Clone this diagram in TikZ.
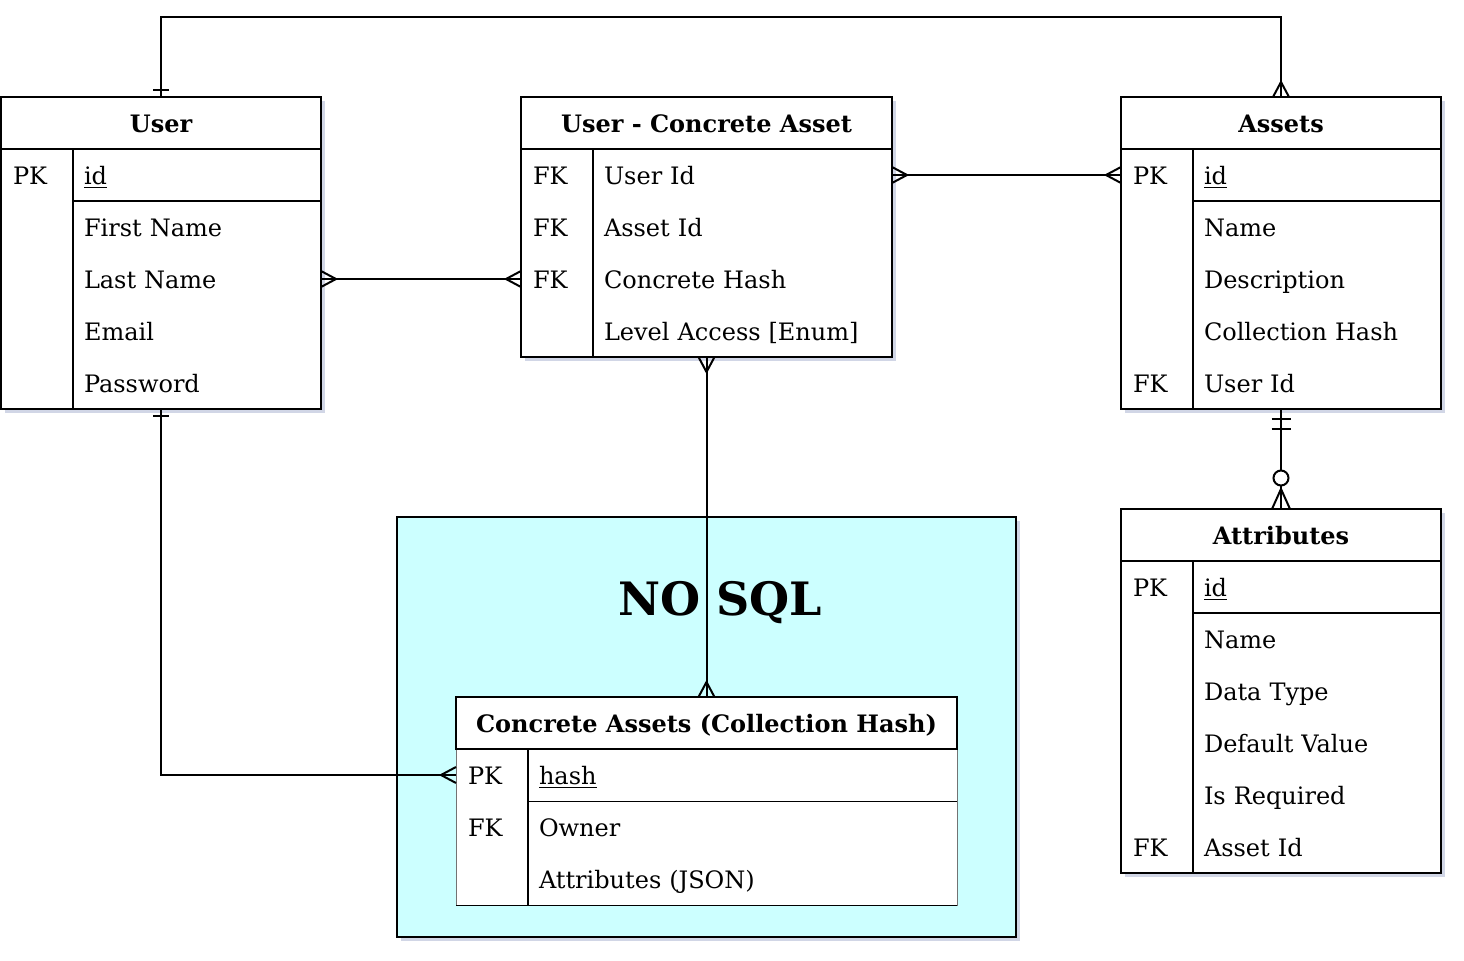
\documentclass[tikz,border=0pt]{standalone}
\usepackage{fontspec}
\setmainfont{DejaVu Serif}
\usepackage{tikz}
\usetikzlibrary{
  positioning
  , shadows
  , arrows.meta
}

\definecolor{nosqlfill}{HTML}{CCFFFF}
\definecolor{shadowblue}{HTML}{9AA3C8}

% crow's foot ends
\pgfdeclarearrow{
  name = ERmany,
  setup code = {
    \pgfarrowssettipend{0pt}
    \pgfarrowssetbackend{-7.5pt}
    \pgfarrowssetlineend{0pt}
  },
  drawing code = {
    \pgfpathmoveto{\pgfqpoint{0pt}{4pt}}
    \pgfpathlineto{\pgfqpoint{-7.5pt}{0pt}}
    \pgfpathlineto{\pgfqpoint{0pt}{-4pt}}
    \pgfusepathqstroke
  }
}
\pgfdeclarearrow{
  name = ERone,
  setup code = {
    \pgfarrowssettipend{0pt}
    \pgfarrowssetbackend{-3.5pt}
    \pgfarrowssetlineend{0pt}
  },
  drawing code = {
    \pgfpathmoveto{\pgfqpoint{-3.5pt}{4pt}}
    \pgfpathlineto{\pgfqpoint{-3.5pt}{-4pt}}
    \pgfusepathqstroke
  }
}
\pgfdeclarearrow{
  name = ERmandone,
  setup code = {
    \pgfarrowssettipend{0pt}
    \pgfarrowssetbackend{-10pt}
    \pgfarrowssetlineend{0pt}
  },
  drawing code = {
    \pgfpathmoveto{\pgfqpoint{-5pt}{4.75pt}}
    \pgfpathlineto{\pgfqpoint{-5pt}{-4.75pt}}
    \pgfpathmoveto{\pgfqpoint{-10pt}{4.75pt}}
    \pgfpathlineto{\pgfqpoint{-10pt}{-4.75pt}}
    \pgfusepathqstroke
  }
}
\pgfdeclarearrow{
  name = ERzeromany,
  setup code = {
    \pgfarrowssettipend{0pt}
    \pgfarrowssetbackend{-19.5pt}
    \pgfarrowssetlineend{0pt}
  },
  drawing code = {
    \pgfpathmoveto{\pgfqpoint{0pt}{4.5pt}}
    \pgfpathlineto{\pgfqpoint{-10pt}{0pt}}
    \pgfpathlineto{\pgfqpoint{0pt}{-4.5pt}}
    \pgfusepathqstroke
    \pgfsetfillcolor{white}
    \pgfpathcircle{\pgfqpoint{-15.5pt}{0pt}}{3.75pt}
    \pgfusepathqfillstroke
  }
}

\tikzset{
  every node/.style={outer sep=0pt, font=\fontsize{12}{14}\selectfont},
  tbl/.style={draw, fill=white, inner sep=0pt, anchor=north west,
    drop shadow={shadow xshift=2pt, shadow yshift=-2pt, opacity=.45, fill=shadowblue}},
  tblhead/.style={draw, fill=white, inner sep=0pt, anchor=north west,
    minimum height=26pt, text height=10pt, text depth=1pt,
    font=\fontsize{12}{14}\selectfont\bfseries},
  keycell/.style={anchor=north west, inner xsep=6pt, inner ysep=0pt,
    text width=24pt, align=left, minimum height=26pt,
    text height=10pt, text depth=1pt},
  fieldcell/.style={inner xsep=5.5pt, inner ysep=0pt,
    text width=#1, align=left, minimum height=26pt,
    text height=10pt, text depth=1pt},
  link/.style={line width=1pt},
}

\begin{document}
\begin{tikzpicture}[x=1pt, y=-1pt, line width=1pt]
  \useasboundingbox (0,0) rectangle (732,480);

  % NO SQL area
  \node[draw, fill=nosqlfill, inner sep=0pt, anchor=north west,
    minimum width=309.5pt, minimum height=210pt,
    drop shadow={shadow xshift=2pt, shadow yshift=-2pt, opacity=.45, fill=shadowblue}]
    (nosql) at (198.5,258.5) {};
  \node[anchor=base, font=\fontsize{23}{27}\selectfont\bfseries] (nosql-t) at (360,307.5) {NO SQL};

  % User
  \node[tbl, minimum width=160pt, minimum height=156pt] (user) at (0.5,48.5) {};
  \node[tblhead, minimum width=160pt] (user-h) at (0.5,48.5) {User};
  \foreach \k/\f [count=\i] in {PK/\underline{id}, /First Name, /Last Name, /Email, /Password}{
    \node[keycell] (user-k\i) at (0.5,{48.5+26*\i}) {\k};
    \node[fieldcell=113pt, right=0pt of user-k\i] (user-f\i) {\f};
  }
  \draw (user-k1.north east) -- (user-k5.south east);
  \draw (user-f1.south west) -- (user-f1.south east);

  % User - Concrete Asset
  \node[tbl, minimum width=185.5pt, minimum height=130pt] (uca) at (260.5,48.5) {};
  \node[tblhead, minimum width=185.5pt] (uca-h) at (260.5,48.5) {User - Concrete Asset};
  \foreach \k/\f [count=\i] in {FK/User Id, FK/Asset Id, FK/Concrete Hash, /Level Access [Enum]}{
    \node[keycell] (uca-k\i) at (260.5,{48.5+26*\i}) {\k};
    \node[fieldcell=138.5pt, right=0pt of uca-k\i] (uca-f\i) {\f};
  }
  \draw (uca-k1.north east) -- (uca-k4.south east);

  % Assets
  \node[tbl, minimum width=160pt, minimum height=156pt] (assets) at (560.5,48.5) {};
  \node[tblhead, minimum width=160pt] (assets-h) at (560.5,48.5) {Assets};
  \foreach \k/\f [count=\i] in {PK/\underline{id}, /Name, /Description, /Collection Hash, FK/User Id}{
    \node[keycell] (assets-k\i) at (560.5,{48.5+26*\i}) {\k};
    \node[fieldcell=113pt, right=0pt of assets-k\i] (assets-f\i) {\f};
  }
  \draw (assets-k1.north east) -- (assets-k5.south east);
  \draw (assets-f1.south west) -- (assets-f1.south east);

  % Attributes
  \node[tbl, minimum width=160pt, minimum height=182pt] (attr) at (560.5,254.5) {};
  \node[tblhead, minimum width=160pt] (attr-h) at (560.5,254.5) {Attributes};
  \foreach \k/\f [count=\i] in {PK/\underline{id}, /Name, /Data Type, /Default Value, /Is Required, FK/Asset Id}{
    \node[keycell] (attr-k\i) at (560.5,{254.5+26*\i}) {\k};
    \node[fieldcell=113pt, right=0pt of attr-k\i] (attr-f\i) {\f};
  }
  \draw (attr-k1.north east) -- (attr-k6.south east);
  \draw (attr-f1.south west) -- (attr-f1.south east);

  % Concrete Assets
  \node[draw=black!55, line width=.5pt, fill=white, inner sep=0pt, anchor=north west,
    minimum width=250.5pt, minimum height=104pt] (conc) at (228,348.5) {};
  \node[tblhead, minimum width=250.5pt] (conc-h) at (228,348.5) {Concrete Assets (Collection Hash)};
  \foreach \k/\f [count=\i] in {PK/\underline{hash}, FK/Owner, /Attributes (JSON)}{
    \node[keycell] (conc-k\i) at (228,{348.5+26*\i}) {\k};
    \node[fieldcell=203.5pt, right=0pt of conc-k\i] (conc-f\i) {\f};
  }
  \draw (conc-k1.north east) -- (conc-k3.south east);
  \draw[line width=.5pt] (conc-f1.south west) -- (conc-f1.south east);
  \draw[line width=.5pt] (conc.south west) -- (conc.south east);

  % relations
  \draw[link, ERone-ERmany] (user-h.north) -- ++(0,-40) -| (assets-h.north);
  \draw[link, ERmany-ERmany] (user-f3.east) -- (uca-k3.west);
  \draw[link, ERmany-ERmany] (uca-f1.east) -- (assets-k1.west);
  \draw[link, ERmandone-ERzeromany] (assets.south) -- (attr-h.north);
  \draw[link, ERmany-ERmany] (uca.south) -- (conc-h.north);
  \draw[link, ERone-ERmany] (user.south) |- (conc-k1.west);
\end{tikzpicture}
\end{document}
